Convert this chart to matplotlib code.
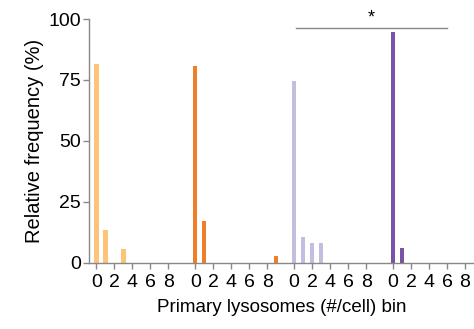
import matplotlib.pyplot as plt
import numpy as np

plt.rcParams['font.family'] = ['Liberation Sans', 'DejaVu Sans']

bins = list(range(10))
grp1 = [81.5, 13.2, 0, 5.5, 0, 0, 0, 0, 0, 0]
grp2 = [80.7, 17.0, 0, 0, 0, 0, 0, 0, 0, 2.8]
grp3 = [74.5, 10.3, 7.9, 7.9, 0, 0, 0, 0, 0, 0]
grp4 = [94.6, 5.8, 0, 0, 0, 0, 0, 0, 0, 0]
groups = [grp1, grp2, grp3, grp4]
colors = ['#fdc477', '#ef7d2a', '#c3bde0', '#7853a7']
tick_bins = [0, 2, 4, 6, 8]
step = 11

fig = plt.figure(figsize=(4.74, 3.29), dpi=100)
ax = fig.add_axes([0.188, 0.202, 0.812, 0.740])

for g, vals in enumerate(groups):
    x = np.array(bins) + g * step
    ax.bar(x, vals, width=0.5, color=colors[g])

ticks = []
labels = []
for g in range(4):
    for b in tick_bins:
        ticks.append(g * step + b)
        labels.append(str(b))
ax.set_xticks(ticks)
ax.set_xticklabels(labels)
ax.set_yticks([0, 25, 50, 75, 100])

ax.set_xlim(-0.8, 42)
ax.set_ylim(0, 100)

for s in ['top', 'right']:
    ax.spines[s].set_visible(False)
for s in ['left', 'bottom']:
    ax.spines[s].set_color('#888888')
    ax.spines[s].set_linewidth(1)
ax.tick_params(axis='both', colors='#888888', labelcolor='black',
               length=4, width=1, labelsize=14, pad=2)
ax.tick_params(axis='x', pad=4)

ax.set_ylabel('Relative frequency (%)', fontsize=14.5, labelpad=3)
ax.set_xlabel('Primary lysosomes (#/cell) bin', fontsize=13.5, labelpad=6)

# significance bar
ax.plot([22.2, 39], [96.3, 96.3], color='#888888', lw=1, clip_on=False)
ax.text(30.6, 97, '*', ha='center', va='bottom', fontsize=13, clip_on=False)

fig.savefig('out.png', dpi=100)
